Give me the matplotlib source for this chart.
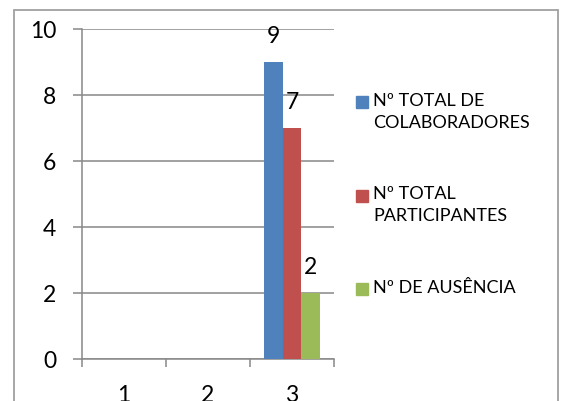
import numpy as np
import matplotlib
matplotlib.use("Agg")
import matplotlib.pyplot as plt
from matplotlib.patches import Rectangle

categories = ["1", "2", "3"]
series_names = ["Nº TOTAL DE\nCOLABORADORES", "Nº TOTAL\nPARTICIPANTES", "Nº DE AUSÊNCIA"]
colaboradores = [np.nan, np.nan, 9]
participantes = [np.nan, np.nan, 7]
ausencia = [np.nan, np.nan, 2]
colors = ["#4F81BD", "#C0504D", "#9BBB59"]
y_ticks = [0, 2, 4, 6, 8, 10]

plt.rcParams['font.family'] = ['Lato', 'DejaVu Sans']
W, H = 562, 401
grid_c = "#888888"

fig = plt.figure(figsize=(W / 100, H / 100), dpi=100)
ax = fig.add_axes([82 / W, (H - 359) / H, (334 - 82) / W, (359 - 29) / H])

x = np.arange(len(categories))
w = 0.225
for i, (vals, c) in enumerate(zip([colaboradores, participantes, ausencia], colors)):
    pos = x + (i - 1) * w
    ax.bar(pos, vals, width=w, color=c, zorder=3)
    for px, v in zip(pos, vals):
        if not np.isnan(v):
            ax.annotate(f"{v:g}", (px, v), xytext=(0, 13.5), textcoords="offset points",
                        ha="center", va="baseline", fontsize=16.5, color="black")

ax.set_xlim(-0.5, 2.5)
ax.set_ylim(0, 10)
ax.set_yticks(y_ticks)
ax.yaxis.grid(True, color=grid_c, linewidth=1.1)
ax.set_axisbelow(True)

ax.set_xticks([-0.5, 0.5, 1.5, 2.5])
ax.set_xticklabels([])
ax.set_xticks(x, minor=True)
ax.set_xticklabels(categories, minor=True)
ax.tick_params(axis="x", which="major", length=6, width=1.1, color=grid_c, direction="out")
ax.tick_params(axis="x", which="minor", length=0, pad=18.5, labelsize=16.5)
ax.tick_params(axis="y", length=6.5, width=1.1, color=grid_c, pad=12, labelsize=16.5)

for s in ["top", "right"]:
    ax.spines[s].set_visible(False)
for s in ["left", "bottom"]:
    ax.spines[s].set_color(grid_c)
    ax.spines[s].set_linewidth(1.1)

# legend drawn by hand, Excel style
leg_y = [102, 195.5, 289]
for name, c, yy in zip(series_names, colors, leg_y):
    fig.patches.append(Rectangle((356 / W, (H - yy - 6) / H), 12 / W, 12 / H,
                                 transform=fig.transFigure, color=c))
    fig.text(373 / W, (H - yy + 9) / H, name, ha="left", va="top",
             fontsize=13, linespacing=1.45)

# chart border
fig.patches.append(Rectangle((14 / W, -0.05), (558 - 14) / W, (H - 10) / H + 0.05,
                             transform=fig.transFigure, fill=False,
                             edgecolor="#a0a0a0", linewidth=1.3))

fig.savefig("out.png", dpi=100)
